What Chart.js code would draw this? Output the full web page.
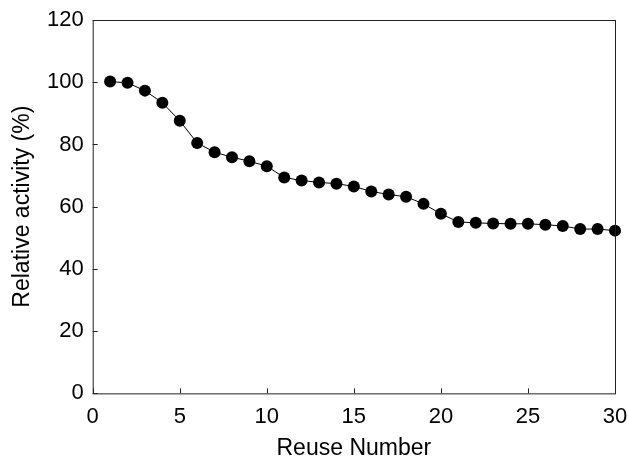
<!DOCTYPE html>
<html lang="en">
<head>
    <meta charset="UTF-8">
    <title>Relative activity vs reuse number</title>
    <script src="https://cdn.jsdelivr.net/npm/chart.js"></script>
    <style>
        body {
            margin: 0;
            background: white;
        }
        .box {
            width: 628px;
            height: 457px;
        }
    </style>
</head>
<body>
    <div class="box">
        <canvas id="reuseChart" width="628" height="457"></canvas>
    </div>

    <script>
        // values
        const reuseNumber = [1, 2, 3, 4, 5, 6, 7, 8, 9, 10, 11, 12, 13, 14, 15,
                             16, 17, 18, 19, 20, 21, 22, 23, 24, 25, 26, 27, 28, 29, 30];
        const relativeActivity = [100.2, 99.8, 97.3, 93.4, 87.6, 80.5, 77.5, 75.9, 74.6, 73.0,
                                  69.4, 68.4, 67.8, 67.4, 66.5, 64.9, 63.9, 63.2, 60.9, 57.7,
                                  55.1, 54.8, 54.6, 54.5, 54.5, 54.2, 53.8, 52.8, 52.8, 52.3];
        const xTicks = [0, 5, 10, 15, 20, 25, 30];
        const yTicks = [0, 20, 40, 60, 80, 100, 120];

        const font = "'Liberation Sans', Arial, sans-serif";

        // frame round the plot + ticks pointing inward
        const frame = {
            id: 'frame',
            afterDatasetsDraw(chart) {
                const ctx = chart.ctx;
                const a = chart.chartArea;
                const xs = chart.scales.x, ys = chart.scales.y;
                ctx.save();
                ctx.strokeStyle = '#222';
                ctx.lineWidth = 1;
                ctx.strokeRect(a.left + 0.5, a.top + 0.5, a.right - a.left, a.bottom - a.top);
                ctx.beginPath();
                xTicks.forEach(v => {
                    const px = Math.round(xs.getPixelForValue(v)) + 0.5;
                    ctx.moveTo(px, a.bottom);
                    ctx.lineTo(px, a.bottom - 5);
                });
                yTicks.forEach(v => {
                    const py = Math.round(ys.getPixelForValue(v)) + 0.5;
                    ctx.moveTo(a.left, py);
                    ctx.lineTo(a.left + 5, py);
                });
                ctx.stroke();
                ctx.restore();
            }
        };

        new Chart(document.getElementById('reuseChart'), {
            type: 'line',
            data: {
                datasets: [{
                    data: reuseNumber.map((x, i) => ({ x: x, y: relativeActivity[i] })),
                    borderColor: '#000',
                    borderWidth: 1,
                    backgroundColor: '#000',
                    pointRadius: 6,
                    pointHoverRadius: 6,
                    pointBorderWidth: 0,
                    tension: 0,
                    clip: false
                }]
            },
            options: {
                responsive: false,
                animation: false,
                layout: { padding: { left: 11, right: 13, top: 20, bottom: 0 } },
                plugins: {
                    legend: { display: false },
                    tooltip: { enabled: false }
                },
                scales: {
                    x: {
                        type: 'linear',
                        min: 0,
                        max: 30,
                        afterBuildTicks: s => { s.ticks = xTicks.map(v => ({ value: v })); },
                        afterFit: s => { s.paddingLeft = 0; s.paddingRight = 0; },
                        grid: { display: false, drawTicks: false },
                        border: { display: false },
                        ticks: { color: '#000', padding: 10, font: { family: font, size: 22 } },
                        title: {
                            display: true,
                            text: 'Reuse Number',
                            color: '#000',
                            padding: { top: 0, bottom: 0 },
                            font: { family: font, size: 23, lineHeight: 0.75 }
                        }
                    },
                    y: {
                        min: 0,
                        max: 120,
                        afterBuildTicks: s => { s.ticks = yTicks.map(v => ({ value: v })); },
                        afterFit: s => { s.paddingTop = 0; s.paddingBottom = 0; },
                        grid: { display: false, drawTicks: false },
                        border: { display: false },
                        ticks: { color: '#000', padding: 9, font: { family: font, size: 22 } },
                        title: {
                            display: true,
                            text: 'Relative activity (%)',
                            color: '#000',
                            padding: { top: 0, bottom: 4 },
                            font: { family: font, size: 23, lineHeight: 1 }
                        }
                    }
                }
            },
            plugins: [frame]
        });
    </script>
</body>
</html>
